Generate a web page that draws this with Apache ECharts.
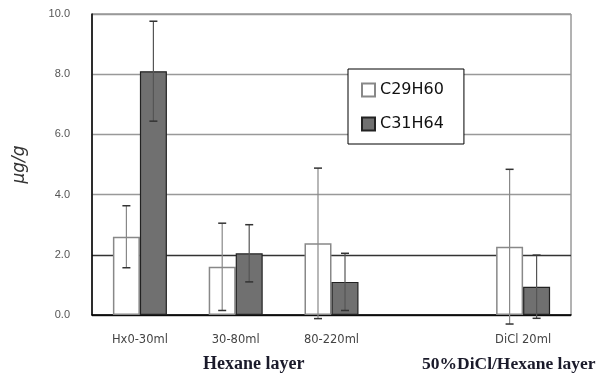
<!DOCTYPE html>
<html>
<head>
<meta charset="utf-8">
<script src="https://cdn.jsdelivr.net/npm/echarts@6/dist/echarts.min.js"></script>
<style>html,body{margin:0;padding:0;background:#fff}#c{width:607px;height:374px}</style>
</head>
<body>
<div id="c"></div>
<script>
const categories = ['Hx0-30ml', '30-80ml', '80-220ml', '', 'DiCl 20ml'];
const c29Values = [2.6, 1.6, 2.38, null, 2.27];
const c29Errors = [1.03, 1.45, 2.5, null, 2.57];
const c31Values = [8.1, 2.05, 1.1, null, 0.94];
const c31Errors = [1.66, 0.95, 0.95, null, 1.05];
const yTicks = [0, 2, 4, 6, 8, 10];
const groupLabels = ['Hexane layer', '50%DiCl/Hexane layer'];

const BAR_W = 27;
function errData(vals, errs) {
  return vals.map((v, i) => v == null ? null : [i, v, errs[i]]).filter(d => d);
}
function errRender(offset, lineColor) {
  return function (params, api) {
    const i = api.value(0), v = api.value(1), e = api.value(2);
    const top = api.coord([i, v + e]);
    const bot = api.coord([i, v - e]);
    const x = top[0] + offset;
    const cap = 4;
    return {
      type: 'group',
      children: [
        {type: 'line', shape: {x1: x, y1: top[1], x2: x, y2: bot[1]}, style: {stroke: lineColor, lineWidth: 1.2}},
        {type: 'line', shape: {x1: x - cap, y1: top[1], x2: x + cap, y2: top[1]}, style: {stroke: '#333', lineWidth: 1.5}},
        {type: 'line', shape: {x1: x - cap, y1: bot[1], x2: x + cap, y2: bot[1]}, style: {stroke: '#333', lineWidth: 1.5}}
      ]
    };
  };
}

const chart = echarts.init(document.getElementById('c'), null, {renderer: 'canvas'});
chart.setOption({
  animation: false,
  backgroundColor: '#fff',
  grid: {left: 92, right: 36, top: 14, bottom: 59, show: true, borderColor: '#666', borderWidth: 1, backgroundColor: 'transparent'},
  legend: {
    orient: 'vertical', left: 348, top: 69,
    data: ['C29H60', 'C31H64'],
    itemWidth: 13, itemHeight: 13, itemGap: 18,
    padding: [13, 20, 12, 13],
    borderColor: '#000', borderWidth: 1, backgroundColor: '#fff',
    textStyle: {fontFamily: 'DejaVu Sans', fontSize: 16, color: '#111'},
    icon: 'rect'
  },
  xAxis: {
    type: 'category', data: categories,
    axisLine: {lineStyle: {color: '#000', width: 1.5}},
    axisTick: {inside: true, length: 4, lineStyle: {color: '#666'}},
    axisLabel: {fontFamily: 'DejaVu Sans', fontSize: 11.5, color: '#444', margin: 19}
  },
  yAxis: {
    type: 'value', min: yTicks[0], max: yTicks[yTicks.length - 1], interval: 2,
    name: 'μg/g', nameLocation: 'middle', nameGap: 64, nameRotate: 90,
    nameTextStyle: {fontFamily: 'DejaVu Sans', fontSize: 17, color: '#333', fontStyle: 'italic'},
    axisLine: {show: true, lineStyle: {color: '#000', width: 1.5}},
    axisTick: {show: false},
    axisLabel: {fontFamily: 'Liberation Sans', fontSize: 11, color: '#555', margin: 22, formatter: v => v.toFixed(1)},
    splitLine: {lineStyle: {color: ['#333', '#333', '#999', '#999', '#999', '#999'], width: 1.3}}
  },
  series: [
    {name: 'C29H60', type: 'bar', data: c29Values, barWidth: BAR_W, barGap: '0%',
      itemStyle: {color: '#fff', borderColor: '#888', borderWidth: 1.5}},
    {name: 'C31H64', type: 'bar', data: c31Values, barWidth: BAR_W, barGap: '0%',
      itemStyle: {color: '#707070', borderColor: '#222', borderWidth: 1.2}},
    {type: 'custom', data: errData(c29Values, c29Errors), renderItem: errRender(-BAR_W / 2, '#888'), clip: false, z: 5},
    {type: 'custom', data: errData(c31Values, c31Errors), renderItem: errRender(BAR_W / 2, '#555'), clip: false, z: 5}
  ],
  graphic: [
    {type: 'text', left: 203, top: 355, style: {text: groupLabels[0], font: 'bold 18px "Liberation Serif"', fill: '#1a1a2a'}},
    {type: 'text', left: 422, top: 355, style: {text: groupLabels[1], font: 'bold 17.5px "Liberation Serif"', fill: '#1a1a2a'}}
  ]
});
</script>
</body>
</html>
